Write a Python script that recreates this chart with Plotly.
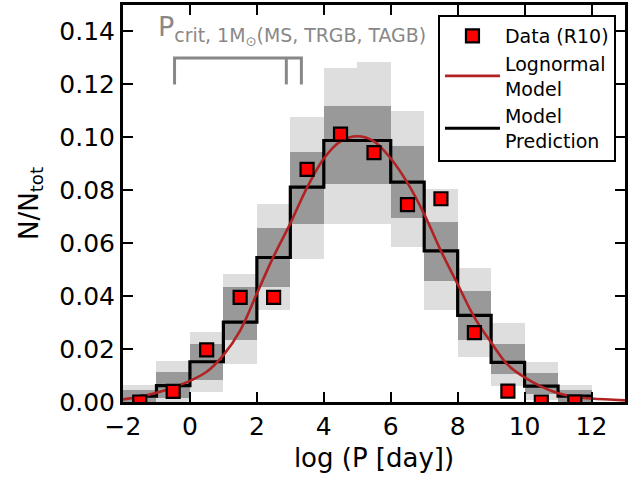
import plotly.graph_objects as go

# ---- data ----
bin_edges = [-2, -1, 0, 1, 2, 3, 4, 5, 6, 7, 8, 9, 10, 11, 12]
bin_centers = [-1.5, -0.5, 0.5, 1.5, 2.5, 3.5, 4.5, 5.5, 6.5, 7.5, 8.5, 9.5, 10.5, 11.5]

model_pred = [0.0022, 0.0062, 0.0152, 0.0302, 0.0546, 0.0812, 0.0988, 0.0988,
              0.0831, 0.0571, 0.0327, 0.0150, 0.0060, 0.0022]

light_lo = [0.0, 0.0, 0.0036, 0.0145, 0.0346, 0.0540, 0.0672, 0.0672,
            0.0586, 0.0346, 0.0170, 0.0060, 0.0008, 0.0]
light_hi = [0.0064, 0.0154, 0.0264, 0.0484, 0.0747, 0.1075, 0.1263, 0.1286,
            0.1098, 0.0803, 0.0506, 0.0298, 0.0152, 0.0064]
dark_lo = [0.0, 0.0015, 0.0083, 0.0233, 0.0434, 0.0672, 0.0824, 0.0824,
           0.0697, 0.0459, 0.0233, 0.0105, 0.0030, 0.0]
dark_hi = [0.0045, 0.0114, 0.0221, 0.0434, 0.0659, 0.0944, 0.1120, 0.1120,
           0.0966, 0.0680, 0.0419, 0.0221, 0.0110, 0.0045]

data_r10 = [0.0, 0.0040, 0.0197, 0.0395, 0.0395, 0.0879, 0.1012, 0.0942,
            0.0746, 0.0768, 0.0262, 0.0041, 0.0, 0.0]

curve_x = [-2, -1.5, -1, -0.5, 0, 0.5, 1, 1.5, 2, 2.5, 3, 3.5, 4, 4.5, 5, 5.5, 6, 6.5,
           7, 7.5, 8, 8.5, 9, 9.5, 10, 10.5, 11, 11.5, 12, 13]
curve_y = [0.0010, 0.0020, 0.0035, 0.0055, 0.0080, 0.0114, 0.0177, 0.0270, 0.0410,
           0.0550, 0.0675, 0.0810, 0.0920, 0.0985, 0.1004, 0.0985, 0.0920, 0.0828,
           0.0710, 0.0571, 0.0445, 0.0320, 0.0225, 0.0140, 0.0093, 0.0058, 0.0033,
           0.0020, 0.0013, 0.0006]

p_crit = [-0.46, 2.88, 3.33]          # MS, TRGB, TAGB
bracket_levels = [0.12, 0.13]

x_ticks = [-2, 0, 2, 4, 6, 8, 10, 12]
y_ticks = [0.00, 0.02, 0.04, 0.06, 0.08, 0.10, 0.12, 0.14]

FONT = "DejaVu Sans"
fig = go.Figure()

# 2-sigma (light) and 1-sigma (dark) boxes
fig.add_trace(go.Bar(x=bin_centers, y=[h - l for h, l in zip(light_hi, light_lo)],
                     base=light_lo, width=1, marker=dict(color="#dedede", line=dict(width=0)),
                     showlegend=False, hoverinfo="skip"))
fig.add_trace(go.Bar(x=bin_centers, y=[h - l for h, l in zip(dark_hi, dark_lo)],
                     base=dark_lo, width=1, marker=dict(color="#999999", line=dict(width=0)),
                     showlegend=False, hoverinfo="skip"))

# model prediction step line
step_x = [bin_centers[0]] + bin_edges[1:]
step_y = model_pred + [model_pred[-1]]
fig.add_trace(go.Scatter(x=step_x, y=step_y, mode="lines", line_shape="hv",
                         line=dict(color="black", width=3.2),
                         name="Model<br>Prediction", legendrank=3))

# lognormal model
fig.add_trace(go.Scatter(x=curve_x, y=curve_y, mode="lines", line_shape="spline",
                         line=dict(color="#b22222", width=2.6),
                         name="Lognormal<br>Model", legendrank=2))

# data
fig.add_trace(go.Scatter(x=bin_centers, y=data_r10, mode="markers",
                         marker=dict(symbol="square", size=13, color="red",
                                     line=dict(color="black", width=2.2)),
                         name="Data (R10)", legendrank=1))

# P_crit bracket
lo, hi = bracket_levels
bx = [p_crit[0], p_crit[0], p_crit[2], p_crit[2], None, p_crit[1], p_crit[1]]
by = [lo, hi, hi, lo, None, hi, lo]
fig.add_trace(go.Scatter(x=bx, y=by, mode="lines", line=dict(color="#888888", width=3),
                         showlegend=False, hoverinfo="skip"))

fig.add_annotation(x=p_crit[0] - 0.55, y=0.1405, xref="x", yref="y",
                   xanchor="left", yanchor="middle", showarrow=False,
                   text="P<sub>crit, 1M<sub>⊙</sub>(MS, TRGB, TAGB)</sub>",
                   font=dict(family=FONT, size=27, color="#888888"))

axis_common = dict(showline=True, linewidth=3, linecolor="black", mirror="allticks",
                   ticks="inside", ticklen=10, tickwidth=2, tickcolor="black",
                   showgrid=False, zeroline=False, automargin=False,
                   tickfont=dict(family=FONT, size=25, color="black"))

fig.update_xaxes(range=[-2, 13], tickvals=x_ticks, **axis_common,
                 title=dict(text="log (P [day])", font=dict(family=FONT, size=26, color="black"),
                            standoff=9))
fig.update_yaxes(range=[0, 0.15], tickvals=y_ticks, tickformat=".2f", **axis_common,
                 title=dict(text="N/N<sub>tot</sub>", font=dict(family=FONT, size=26, color="black"),
                            standoff=14))

fig.update_layout(
    width=628, height=478,
    margin=dict(l=123, r=3, t=5, b=76),
    paper_bgcolor="white", plot_bgcolor="white",
    barmode="overlay", bargap=0,
    legend=dict(x=0.982, y=0.975, xanchor="right", yanchor="top",
                bordercolor="black", borderwidth=2, bgcolor="white",
                font=dict(family=FONT, size=19, color="black"),
                tracegroupgap=0, itemwidth=55),
)

fig.write_html("out.html", config={"displayModeBar": False},
               post_script="document.body.style.margin='0';document.body.style.overflow='hidden';")
